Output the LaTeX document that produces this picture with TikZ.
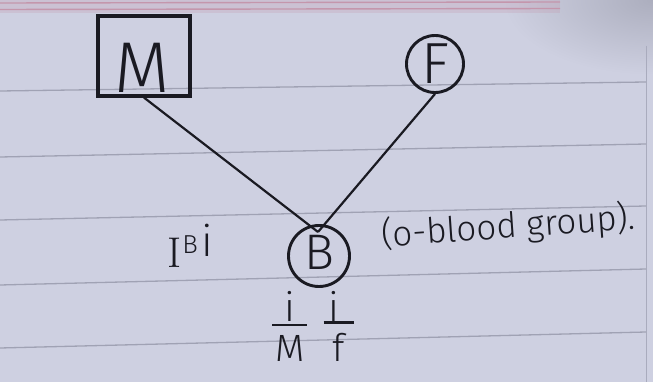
\documentclass[tikz,border=0pt]{standalone}
\usepackage{fontspec}
\newfontfamily\hand{Fira Sans Light}
\definecolor{paper}{RGB}{206,208,225}
\definecolor{papershade}{RGB}{172,174,190}
\definecolor{rulec}{RGB}{160,162,180}
\definecolor{marginc}{RGB}{196,150,172}
\definecolor{inkc}{RGB}{26,26,34}
\begin{document}
\begin{tikzpicture}[x=1pt,y=-1pt,
  ink/.style={draw=inkc,line width=2.9pt},
  wire/.style={draw=inkc,line width=2.2pt},
  fracbar/.style={draw=inkc,line width=2.4pt},
  ruled/.style={draw=rulec,line width=1.3pt},
  word/.style={text=inkc,inner sep=0pt},
  sz/.style={font=\hand\fontsize{#1}{#1}\selectfont}]
% sheet of ruled paper
\fill[paper] (0,0) rectangle (653,382);
\useasboundingbox (0,0) rectangle (653,382);
\begin{scope}
  \clip (0,0) rectangle (653,382);
  \shade[inner color=papershade,outer color=paper] (653,0) ellipse[x radius=150pt,y radius=75pt];
\end{scope}
\fill[marginc,opacity=0.25] (0,0) rectangle (560,13);
\draw[marginc,line width=1.4pt] (0,3) -- (560,2);
\draw[marginc,line width=1.4pt] (0,9.5) -- (560,8.5);
\draw[rulec!80!paper,line width=1pt] (646,46) -- (646,382);
\foreach \a/\b in {91/82,157/144,220/206,285/269,348/332}
  \draw[ruled] (0,\a) -- (646,\b);
% parents
\node[ink,line width=3.2pt,minimum width=92pt,minimum height=80pt,inner sep=0pt] (M) at (144,56) {};
\node[word,sz=72] (Mt) at (142,68) {M};
\node[ink,circle,minimum size=57pt,inner sep=0pt,word,sz=58] (F) at (435,64) {F};
% child
\node[ink,circle,minimum size=61pt,inner sep=0pt] (B) at (319,256) {};
\node[word,sz=50] (Bt) at (319,252) {B};
\coordinate (Bj) at (318,232);
\draw[wire] (M.south) -- (Bj);
\draw[wire] (F.south) -- (Bj);
% genotype and notes
\node[word,sz=43,anchor=base west] (G) at (167,267)
  {{\rmfamily I}\kern1pt{\fontsize{26}{26}\selectfont\raisebox{14pt}{B}}\kern4pt\raisebox{11pt}{i}};
\node[word,sz=35,anchor=base west,rotate=4] (note) at (382,247) {(o-blood group).};
% alleles received from each parent
\node[word,sz=40,anchor=base] (mi) at (290,321) {i};
\node[word,sz=38,anchor=base] (md) at (290,361) {M};
\node[word,sz=40,anchor=base] (fi) at (334,321) {i};
\node[word,sz=38,anchor=base] (fd) at (339,361) {f};
\draw[fracbar] ([shift={(-3pt,10pt)}]md.north west) -- ([shift={(2pt,10pt)}]md.north east);
\draw[fracbar] ([shift={(-9pt,10pt)}]fd.north west) -- ([shift={(9pt,10pt)}]fd.north east);
\end{tikzpicture}
\end{document}
